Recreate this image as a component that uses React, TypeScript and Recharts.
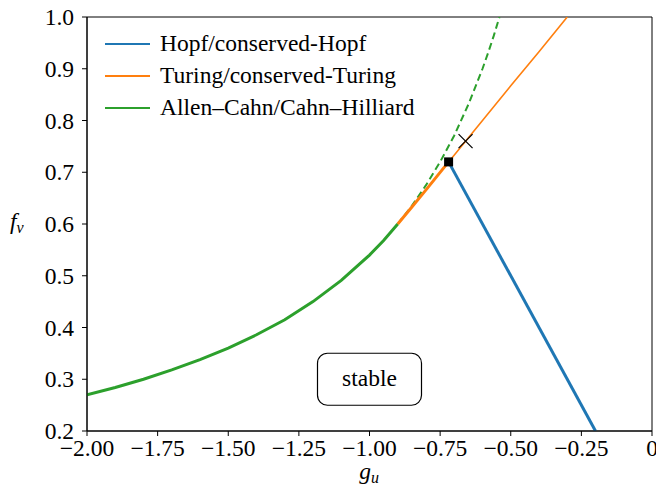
import React from "react";
import {
  ComposedChart,
  Line,
  XAxis,
  YAxis,
  Scatter,
  ReferenceDot,
  ReferenceArea,
} from "recharts";

const BLUE = "#1f77b4";
const ORANGE = "#ff7f0e";
const GREEN = "#2ca02c";
const FONT = "Liberation Serif";
const serif = { fontFamily: FONT };
const FS = 23.5;

// Allen–Cahn / Cahn–Hilliard boundary (solid part)
const allenCahnSolid = [
  { g: -2.0, f: 0.27 },
  { g: -1.9, f: 0.284 },
  { g: -1.8, f: 0.3 },
  { g: -1.7, f: 0.318 },
  { g: -1.6, f: 0.338 },
  { g: -1.5, f: 0.36 },
  { g: -1.4, f: 0.386 },
  { g: -1.3, f: 0.415 },
  { g: -1.2, f: 0.45 },
  { g: -1.1, f: 0.491 },
  { g: -1.0, f: 0.54 },
  { g: -0.95, f: 0.568 },
  { g: -0.9, f: 0.6 },
];

// Allen–Cahn / Cahn–Hilliard continuation (dashed)
const allenCahnDashed = [
  { g: -0.9, f: 0.6 },
  { g: -0.85, f: 0.635 },
  { g: -0.8, f: 0.675 },
  { g: -0.75, f: 0.72 },
  { g: -0.7, f: 0.771 },
  { g: -0.65, f: 0.831 },
  { g: -0.6, f: 0.9 },
  { g: -0.58, f: 0.931 },
  { g: -0.56, f: 0.964 },
  { g: -0.54, f: 1.0 },
];

// Turing / conserved-Turing boundary: thick stretch, then thin continuation
const turingThick = [
  { g: -0.9, f: 0.6 },
  { g: -0.85, f: 0.633 },
  { g: -0.8, f: 0.666 },
  { g: -0.76, f: 0.693 },
  { g: -0.72, f: 0.72 },
];
const turingThin = [
  { g: -0.72, f: 0.72 },
  { g: -0.6, f: 0.8 },
  { g: -0.5, f: 0.867 },
  { g: -0.4, f: 0.933 },
  { g: -0.3, f: 1.0 },
];

// Hopf / conserved-Hopf boundary
const hopf = [
  { g: -0.72, f: 0.72 },
  { g: -0.2, f: 0.2 },
];

// Codimension-two point and marked point
const squarePoint = [{ g: -0.72, f: 0.72 }];
const crossPoint = [{ g: -0.66, f: 0.76 }];

const xTicks = [-2.0, -1.75, -1.5, -1.25, -1.0, -0.75, -0.5, -0.25, 0];
const yTicks = [0.2, 0.3, 0.4, 0.5, 0.6, 0.7, 0.8, 0.9, 1.0];

const legendItems = [
  { label: "Hopf/conserved-Hopf", color: BLUE },
  { label: "Turing/conserved-Turing", color: ORANGE },
  { label: "Allen\u2013Cahn/Cahn\u2013Hilliard", color: GREEN },
];

const fmtX = (v: number) =>
  v === 0 ? "0" : (v < 0 ? "\u2212" : "") + Math.abs(v).toFixed(2);
const fmtY = (v: number) => v.toFixed(1);

const XTick = (p: any) => (
  <text
    x={p.x}
    y={p.y}
    dy={16}
    textAnchor="middle"
    fontFamily={FONT}
    style={serif}
    fontSize={FS}
    fill="#000"
  >
    {fmtX(p.payload.value)}
  </text>
);

const YTick = (p: any) => (
  <text
    x={p.x}
    y={p.y}
    dy={8}
    textAnchor="end"
    fontFamily={FONT}
    style={serif}
    fontSize={FS}
    fill="#000"
  >
    {fmtY(p.payload.value)}
  </text>
);

const SquareShape = (p: any) => (
  <rect x={p.cx - 4.5} y={p.cy - 4.5} width={9} height={9} fill="#000" />
);

const CrossShape = (p: any) => (
  <g stroke="#000" strokeWidth={1.2}>
    <line x1={p.cx - 7} y1={p.cy - 7} x2={p.cx + 7} y2={p.cy + 7} />
    <line x1={p.cx - 7} y1={p.cy + 7} x2={p.cx + 7} y2={p.cy - 7} />
  </g>
);

const StableBox = (p: any) => (
  <g>
    <rect
      x={p.cx - 52}
      y={p.cy - 26}
      width={104}
      height={52}
      rx={10}
      ry={10}
      fill="#fff"
      stroke="#000"
      strokeWidth={1.2}
    />
    <text
      x={p.cx}
      y={p.cy + 7}
      textAnchor="middle"
      fontFamily={FONT}
      style={serif}
      fontSize={FS}
      fill="#000"
    >
      stable
    </text>
  </g>
);

const LegendBox = () => (
  <svg
    width={330}
    height={100}
    style={{ position: "absolute", left: 100, top: 28, display: "block" }}
  >
    {legendItems.map((it, i) => (
      <g key={it.label}>
        <line
          x1={5}
          x2={50}
          y1={16 + i * 32}
          y2={16 + i * 32}
          stroke={it.color}
          strokeWidth={2}
        />
        <text x={60} y={23 + i * 32} fontFamily={FONT} style={serif} fontSize={FS} fill="#000">
          {it.label}
        </text>
      </g>
    ))}
  </svg>
);

const XLabel = () => (
  <text x={369} y={479} textAnchor="middle" fontFamily={FONT} style={serif} fontSize={FS} fill="#000">
    <tspan fontStyle="italic">g</tspan>
    <tspan fontStyle="italic" fontSize={16} dy={4}>
      u
    </tspan>
  </text>
);

const YLabel = () => (
  <text x={10} y={229} fontFamily={FONT} style={serif} fontSize={FS} fill="#000">
    <tspan fontStyle="italic">f</tspan>
    <tspan fontStyle="italic" fontSize={16} dy={4}>
      v
    </tspan>
  </text>
);

export default function App() {
  return (
    <div
      className="phase-diagram"
      style={{
        position: "absolute",
        left: 0,
        top: 0,
        width: 656,
        height: 496,
        background: "#fff",
        fontFamily: FONT,
      }}
    >
      <style>{".phase-diagram text { font-family: 'Liberation Serif', serif !important; }"}</style>
      <ComposedChart
        width={656}
        height={496}
        margin={{ top: 17, right: 4, bottom: 0, left: 27 }}
      >
        <XAxis
          type="number"
          dataKey="g"
          domain={[-2, 0]}
          ticks={xTicks}
          allowDataOverflow
          height={65}
          tick={<XTick />}
          tickSize={5}
          tickMargin={4}
          stroke="#000"
          axisLine={{ stroke: "#000" }}
          tickLine={{ stroke: "#000" }}
          interval={0}
          label={<XLabel />}
        />
        <YAxis
          type="number"
          dataKey="f"
          domain={[0.2, 1.0]}
          ticks={yTicks}
          allowDataOverflow
          width={60}
          tick={<YTick />}
          tickSize={5}
          tickMargin={8}
          stroke="#000"
          axisLine={{ stroke: "#000" }}
          tickLine={{ stroke: "#000" }}
          interval={0}
          label={<YLabel />}
        />
        <ReferenceArea
          x1={-2}
          x2={0}
          y1={0.2}
          y2={1.0}
          fill="none"
          stroke="#000"
          strokeWidth={1}
          fillOpacity={0}
          ifOverflow="visible"
        />
        <ReferenceDot x={-1.0} y={0.3} r={1} shape={StableBox} ifOverflow="visible" />
        <Line
          data={allenCahnSolid}
          dataKey="f"
          stroke={GREEN}
          strokeWidth={3}
          dot={false}
          activeDot={false}
          isAnimationActive={false}
          type="linear"
        />
        <Line
          data={allenCahnDashed}
          dataKey="f"
          stroke={GREEN}
          strokeWidth={2}
          strokeDasharray="7 4"
          dot={false}
          activeDot={false}
          isAnimationActive={false}
          type="linear"
        />
        <Line
          data={turingThin}
          dataKey="f"
          stroke={ORANGE}
          strokeWidth={1.6}
          dot={false}
          activeDot={false}
          isAnimationActive={false}
          type="linear"
        />
        <Line
          data={turingThick}
          dataKey="f"
          stroke={ORANGE}
          strokeWidth={3}
          dot={false}
          activeDot={false}
          isAnimationActive={false}
          type="linear"
        />
        <Line
          data={hopf}
          dataKey="f"
          stroke={BLUE}
          strokeWidth={3}
          dot={false}
          activeDot={false}
          isAnimationActive={false}
          type="linear"
        />
        <Scatter data={squarePoint} dataKey="f" shape={SquareShape} isAnimationActive={false} />
        <Scatter data={crossPoint} dataKey="f" shape={CrossShape} isAnimationActive={false} />
      </ComposedChart>
      <LegendBox />
    </div>
  );
}
